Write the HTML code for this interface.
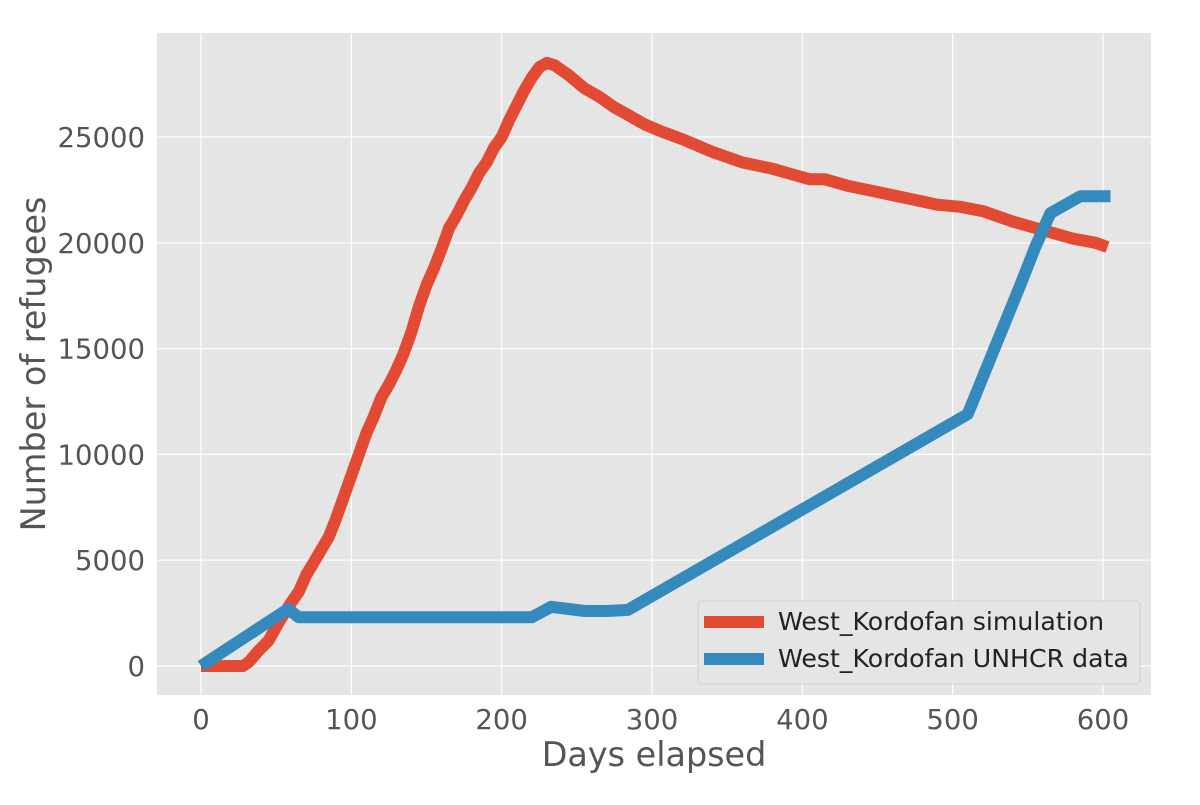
<!DOCTYPE html>
<html><head><meta charset="utf-8"><style>
body{margin:0;background:#fff;}
svg text{font-family:"DejaVu Sans","Liberation Sans",sans-serif;fill:#555;}
</style></head><body>
<svg id="chart" width="1200" height="800">
<rect x="157" y="33" width="994" height="662" fill="#E5E5E5"/>
<g id="grid"></g><g id="ticks"></g><g id="lines"></g>
<text x="654" y="766" text-anchor="middle" font-size="33.4">Days elapsed</text>
<text transform="translate(45,364) rotate(-90)" text-anchor="middle" font-size="33.5">Number of refugees</text>
<g>
<rect x="698" y="601" width="442" height="83" rx="4" fill="#E5E5E5" stroke="#ccc" stroke-width="1" opacity="0.9"/>
<line x1="704" y1="622" x2="764" y2="622" stroke="#E24A33" stroke-width="12"/>
<text x="778" y="630" font-size="25.2" style="fill:#222">West_Kordofan simulation</text>
<line x1="704" y1="659" x2="764" y2="659" stroke="#348ABD" stroke-width="12"/>
<text x="778" y="667" font-size="25.2" style="fill:#222">West_Kordofan UNHCR data</text>
</g>
</svg>
<script>
const xTicks=[0,100,200,300,400,500,600];
const yTicks=[0,5000,10000,15000,20000,25000];
const simDays=[0,28,32,38,45,52,60,65,70,75,80,85,90,95,100,105,110,115,120,125,130,135,140,145,150,155,160,165,170,175,180,185,190,195,200,205,210,215,220,225,230,235,245,255,265,275,285,295,305,320,340,360,380,395,405,415,430,450,470,490,505,520,540,560,580,595,603];
const simVals=[0,0,200,700,1200,2100,3000,3500,4300,4900,5500,6100,7000,8000,9000,10000,11000,11800,12700,13300,14000,14800,15800,17000,18000,18800,19700,20700,21300,22000,22600,23300,23800,24500,25000,25800,26500,27200,27800,28300,28500,28400,27900,27300,26900,26400,26000,25600,25300,24900,24300,23800,23500,23200,23000,23000,22700,22400,22100,21800,21700,21500,21000,20600,20200,20000,19800];
const dataDays=[0,58,65,220,233,255,270,284,510,545,555,565,585,605];
const dataVals=[0,2700,2300,2300,2800,2600,2600,2650,11900,18000,19800,21400,22200,22200];
const X=d=>201+d*(1103-201)/600;
const Y=v=>666-v*(666-137)/25000;
const NS="http://www.w3.org/2000/svg";
const grid=document.getElementById('grid'),ticks=document.getElementById('ticks'),lines=document.getElementById('lines');
function mk(tag,attrs,parent){const e=document.createElementNS(NS,tag);for(const k in attrs)e.setAttribute(k,attrs[k]);parent.appendChild(e);return e;}
xTicks.forEach(t=>{
  const g=mk('line',{x1:X(t),x2:X(t),y1:33,y2:695,stroke:'#fff','stroke-width':1.2},grid);
  
  
  const tx=mk('text',{x:X(t),y:729,'text-anchor':'middle','font-size':27.5},ticks);tx.textContent=t;
  
  
});
yTicks.forEach(t=>{
  const g=mk('line',{x1:157,x2:1151,y1:Y(t),y2:Y(t),stroke:'#fff','stroke-width':1.2},grid);
  
  
  const tx=mk('text',{x:145,y:Y(t)+10,'text-anchor':'end','font-size':27.5},ticks);tx.textContent=t;
  
  
});
function path(ds,vs,color,name){
  const d=ds.map((x,i)=>(i?'L':'M')+X(x).toFixed(1)+','+Y(vs[i]).toFixed(1)).join('');
  const p=mk('path',{d:d,fill:'none',stroke:color,'stroke-width':12,'stroke-linejoin':'round'},lines);
  
  
}
path(simDays,simVals,'#E24A33','simulation-line');
path(dataDays,dataVals,'#348ABD','unhcr-data-line');
</script>
</body></html>
